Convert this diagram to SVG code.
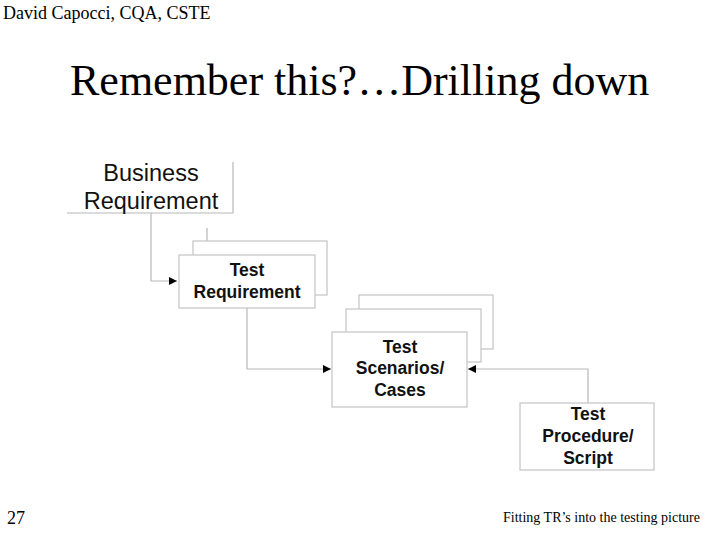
<svg xmlns="http://www.w3.org/2000/svg" width="720" height="540" viewBox="0 0 720 540">
<style>
.box{fill:#fff;stroke:#c4c4c4;stroke-width:1.2}
.ln{fill:none;stroke:#b8b8b8;stroke-width:1.2}
.t{font-family:"Liberation Serif",serif;fill:#000}
.b{font-family:"Liberation Sans",Arial,sans-serif;font-weight:bold;font-size:17.5px;fill:#111;text-anchor:middle}
.r{font-family:"Liberation Sans",Arial,sans-serif;font-size:23.5px;fill:#111;text-anchor:middle}
</style>
<defs>
<marker id="ah" viewBox="0 0 10 10" refX="10" refY="5" markerWidth="8" markerHeight="8" markerUnits="userSpaceOnUse" orient="auto">
<path d="M0,0 L10,5 L0,10 z" fill="#000"/>
</marker>
</defs>
<rect width="720" height="540" fill="#fff"/>
<text class="t" x="3" y="19" font-size="18">David Capocci, CQA, CSTE</text>
<text class="t" x="70" y="95" font-size="44">Remember this?…Drilling down</text>
<text class="t" x="7" y="524" font-size="18">27</text>
<text class="t" x="503" y="522" font-size="14">Fitting TR’s into the testing picture</text>

<g id="connectors">
<path class="ln" d="M151,213 V281 H177" marker-end="url(#ah)"/>
<path class="ln" d="M247,308 V369 H331" marker-end="url(#ah)"/>
<path class="ln" d="M588,403 V369 H468" marker-end="url(#ah)"/>
</g>

<g id="business-requirement">
<path class="ln" d="M233,162 V213 H67"/>
<text class="r" x="151" y="181">Business</text>
<text class="r" x="151" y="209">Requirement</text>
</g>

<g id="test-requirement">
<path class="ln" d="M207,228 V241"/>
<rect class="box" x="193" y="241" width="134" height="54"/>
<rect class="box" x="179" y="255" width="136" height="53"/>
<text class="b" x="247" y="276">Test</text>
<text class="b" x="247" y="298">Requirement</text>
</g>

<g id="test-scenarios">
<rect class="box" x="359" y="295" width="134" height="54"/>
<rect class="box" x="346" y="309" width="135" height="53"/>
<rect class="box" x="332" y="332" width="135" height="75"/>
<text class="b" x="400" y="353">Test</text>
<text class="b" x="400" y="374">Scenarios/</text>
<text class="b" x="400" y="396">Cases</text>
</g>

<g id="test-procedure">
<rect class="box" x="520" y="403" width="134" height="67"/>
<text class="b" x="588" y="420">Test</text>
<text class="b" x="588" y="442">Procedure/</text>
<text class="b" x="588" y="464">Script</text>
</g>
</svg>
